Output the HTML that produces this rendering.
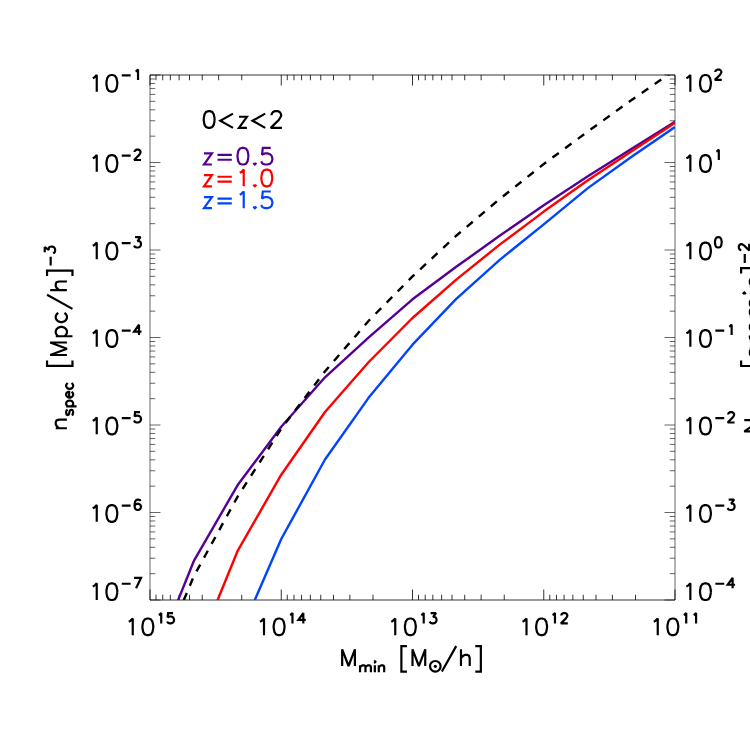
<!DOCTYPE html>
<html><head><meta charset="utf-8"><title>n_spec vs M_min</title>
<style>html,body{margin:0;padding:0;background:#fff}body{width:750px;height:750px;overflow:hidden;font-family:"Liberation Sans",sans-serif}svg{display:block}</style>
</head><body>
<svg width="750" height="750" viewBox="0 0 750 750">
<title>n_spec [Mpc/h]^-3 versus M_min [M_sun/h]</title>
<desc>Log-log plot, 0&lt;z&lt;2. Curves: z=0.5 (purple), z=1.0 (red), z=1.5 (blue), dashed black total. X axis M_min [M_sun/h] from 10^15 to 10^11; left Y axis n_spec [Mpc/h]^-3 from 10^-1 to 10^-7; right Y axis N_proj [arcmin]^-2 from 10^2 to 10^-4.</desc>
<rect width="750" height="750" fill="#fff"/>
<path d="M150 75H675M150 600H675M150 600L150 589.5M150 75L150 85.5M241.74 600L241.74 594.75M241.74 75L241.74 80.25M218.63 600L218.63 594.75M218.63 75L218.63 80.25M202.23 600L202.23 594.75M202.23 75L202.23 80.25M189.51 600L189.51 594.75M189.51 75L189.51 80.25M179.12 600L179.12 594.75M179.12 75L179.12 80.25M170.33 600L170.33 594.75M170.33 75L170.33 80.25M162.72 600L162.72 594.75M162.72 75L162.72 80.25M156.01 600L156.01 594.75M156.01 75L156.01 80.25M281.25 600L281.25 589.5M281.25 75L281.25 85.5M372.99 600L372.99 594.75M372.99 75L372.99 80.25M349.88 600L349.88 594.75M349.88 75L349.88 80.25M333.48 600L333.48 594.75M333.48 75L333.48 80.25M320.76 600L320.76 594.75M320.76 75L320.76 80.25M310.37 600L310.37 594.75M310.37 75L310.37 80.25M301.58 600L301.58 594.75M301.58 75L301.58 80.25M293.97 600L293.97 594.75M293.97 75L293.97 80.25M287.26 600L287.26 594.75M287.26 75L287.26 80.25M412.5 600L412.5 589.5M412.5 75L412.5 85.5M504.24 600L504.24 594.75M504.24 75L504.24 80.25M481.13 600L481.13 594.75M481.13 75L481.13 80.25M464.73 600L464.73 594.75M464.73 75L464.73 80.25M452.01 600L452.01 594.75M452.01 75L452.01 80.25M441.62 600L441.62 594.75M441.62 75L441.62 80.25M432.83 600L432.83 594.75M432.83 75L432.83 80.25M425.22 600L425.22 594.75M425.22 75L425.22 80.25M418.51 600L418.51 594.75M418.51 75L418.51 80.25M543.75 600L543.75 589.5M543.75 75L543.75 85.5M635.49 600L635.49 594.75M635.49 75L635.49 80.25M612.38 600L612.38 594.75M612.38 75L612.38 80.25M595.98 600L595.98 594.75M595.98 75L595.98 80.25M583.26 600L583.26 594.75M583.26 75L583.26 80.25M572.87 600L572.87 594.75M572.87 75L572.87 80.25M564.08 600L564.08 594.75M564.08 75L564.08 80.25M556.47 600L556.47 594.75M556.47 75L556.47 80.25M549.76 600L549.76 594.75M549.76 75L549.76 80.25M675 600L675 589.5M675 75L675 85.5" fill="none" stroke="#000" stroke-width="0.8"/>
<path d="M150 75V600M675 75V600M150 75L160.5 75M675 75L664.5 75M150 136.16L155.25 136.16M675 136.16L669.75 136.16M150 120.75L155.25 120.75M675 120.75L669.75 120.75M150 109.82L155.25 109.82M675 109.82L669.75 109.82M150 101.34L155.25 101.34M675 101.34L669.75 101.34M150 94.41L155.25 94.41M675 94.41L669.75 94.41M150 88.55L155.25 88.55M675 88.55L669.75 88.55M150 83.48L155.25 83.48M675 83.48L669.75 83.48M150 79L155.25 79M675 79L669.75 79M150 162.5L160.5 162.5M675 162.5L664.5 162.5M150 223.66L155.25 223.66M675 223.66L669.75 223.66M150 208.25L155.25 208.25M675 208.25L669.75 208.25M150 197.32L155.25 197.32M675 197.32L669.75 197.32M150 188.84L155.25 188.84M675 188.84L669.75 188.84M150 181.91L155.25 181.91M675 181.91L669.75 181.91M150 176.05L155.25 176.05M675 176.05L669.75 176.05M150 170.98L155.25 170.98M675 170.98L669.75 170.98M150 166.5L155.25 166.5M675 166.5L669.75 166.5M150 250L160.5 250M675 250L664.5 250M150 311.16L155.25 311.16M675 311.16L669.75 311.16M150 295.75L155.25 295.75M675 295.75L669.75 295.75M150 284.82L155.25 284.82M675 284.82L669.75 284.82M150 276.34L155.25 276.34M675 276.34L669.75 276.34M150 269.41L155.25 269.41M675 269.41L669.75 269.41M150 263.55L155.25 263.55M675 263.55L669.75 263.55M150 258.48L155.25 258.48M675 258.48L669.75 258.48M150 254L155.25 254M675 254L669.75 254M150 337.5L160.5 337.5M675 337.5L664.5 337.5M150 398.66L155.25 398.66M675 398.66L669.75 398.66M150 383.25L155.25 383.25M675 383.25L669.75 383.25M150 372.32L155.25 372.32M675 372.32L669.75 372.32M150 363.84L155.25 363.84M675 363.84L669.75 363.84M150 356.91L155.25 356.91M675 356.91L669.75 356.91M150 351.05L155.25 351.05M675 351.05L669.75 351.05M150 345.98L155.25 345.98M675 345.98L669.75 345.98M150 341.5L155.25 341.5M675 341.5L669.75 341.5M150 425L160.5 425M675 425L664.5 425M150 486.16L155.25 486.16M675 486.16L669.75 486.16M150 470.75L155.25 470.75M675 470.75L669.75 470.75M150 459.82L155.25 459.82M675 459.82L669.75 459.82M150 451.34L155.25 451.34M675 451.34L669.75 451.34M150 444.41L155.25 444.41M675 444.41L669.75 444.41M150 438.55L155.25 438.55M675 438.55L669.75 438.55M150 433.48L155.25 433.48M675 433.48L669.75 433.48M150 429L155.25 429M675 429L669.75 429M150 512.5L160.5 512.5M675 512.5L664.5 512.5M150 573.66L155.25 573.66M675 573.66L669.75 573.66M150 558.25L155.25 558.25M675 558.25L669.75 558.25M150 547.32L155.25 547.32M675 547.32L669.75 547.32M150 538.84L155.25 538.84M675 538.84L669.75 538.84M150 531.91L155.25 531.91M675 531.91L669.75 531.91M150 526.05L155.25 526.05M675 526.05L669.75 526.05M150 520.98L155.25 520.98M675 520.98L669.75 520.98M150 516.5L155.25 516.5M675 516.5L669.75 516.5M150 600L160.5 600M675 600L664.5 600" fill="none" stroke="#000" stroke-width="0.6"/>
<clipPath id="c"><rect x="150" y="75" width="525" height="525"/></clipPath>
<g clip-path="url(#c)" fill="none" stroke-width="2.4" stroke-linejoin="round">
<path d="M150 670 L193.75 561.2 L237.5 485.3 L281.25 426.7 L325 377.3 L368.75 337.3 L412.5 299.3 L456.25 266.8 L500 235.6 L543.75 205.2 L587.5 176.4 L631.25 149 L675 121.8" stroke="#550094"/>
<path d="M150 772 L193.75 658.49 L237.5 551.2 L281.25 474.7 L325 412 L368.75 362 L412.5 318 L456.25 279.6 L500 244.4 L543.75 211.6 L587.5 180.4 L631.25 151.4 L675 122.9" stroke="#ff0000"/>
<path d="M150 900 L193.75 790 L237.5 639.9 L281.25 539 L325 459.5 L368.75 397.6 L412.5 344.7 L456.25 298.8 L500 259.6 L543.75 224.4 L587.5 188.4 L631.25 157 L675 127" stroke="#0044ff"/>
<path d="M150 681.03 L193.75 576.34 L237.5 496.8 L281.25 428.72 L325 371.35 L368.75 320.75 L412.5 276.41 L456.25 235.71 L500 198.77 L543.75 164.02 L587.5 131.76 L631.25 100.18 L675 70.13" stroke="#000" stroke-dasharray="7.874 7.874" stroke-dashoffset="6.94"/>
</g>
<path d="M92.77 78.19 L94.36 77.39 L96.75 75 L96.75 91.7M117.26 84.55 L116.48 88.52 L114.94 90.91 L112.62 91.7 L111.08 91.7 L108.76 90.91 L107.22 88.52 L106.44 84.55 L106.44 82.16 L107.22 78.19 L108.76 75.8 L111.08 75 L112.62 75 L114.94 75.8 L116.48 78.19 L117.26 82.16 L117.26 84.55M121.77 75.46 L130.64 75.46M135.57 71.52 L136.56 71.03 L138.04 69.55 L138.04 79.9" fill="none" stroke="#000" stroke-width="2.2" stroke-linejoin="miter" stroke-miterlimit="2.2" stroke-linecap="butt"/>
<path d="M686.37 78.19 L687.96 77.39 L690.35 75 L690.35 91.7M710.86 84.55 L710.08 88.52 L708.54 90.91 L706.22 91.7 L704.68 91.7 L702.36 90.91 L700.82 88.52 L700.04 84.55 L700.04 82.16 L700.82 78.19 L702.36 75.8 L704.68 75 L706.22 75 L708.54 75.8 L710.08 78.19 L710.86 82.16 L710.86 84.55M721.78 79.9 L714.88 79.9 L719.81 74.97 L720.79 73.49 L721.29 72.51 L721.29 71.52 L720.79 70.53 L720.3 70.04 L719.31 69.55 L717.34 69.55 L716.36 70.04 L715.86 70.53 L715.37 71.52 L715.37 72.01" fill="none" stroke="#000" stroke-width="2.2" stroke-linejoin="miter" stroke-miterlimit="2.2" stroke-linecap="butt"/>
<path d="M92.77 158.29 L94.36 157.49 L96.75 155.11 L96.75 171.8M117.26 164.65 L116.48 168.62 L114.94 171.01 L112.62 171.8 L111.08 171.8 L108.76 171.01 L107.22 168.62 L106.44 164.65 L106.44 162.26 L107.22 158.29 L108.76 155.9 L111.08 155.11 L112.62 155.11 L114.94 155.9 L116.48 158.29 L117.26 162.26 L117.26 164.65M121.77 155.56 L130.64 155.56M140.99 160 L134.09 160 L139.02 155.07 L140.01 153.59 L140.5 152.61 L140.5 151.62 L140.01 150.63 L139.52 150.14 L138.53 149.65 L136.56 149.65 L135.57 150.14 L135.08 150.63 L134.59 151.62 L134.59 152.11" fill="none" stroke="#000" stroke-width="2.2" stroke-linejoin="miter" stroke-miterlimit="2.2" stroke-linecap="butt"/>
<path d="M686.37 158.29 L687.96 157.49 L690.35 155.11 L690.35 171.8M710.86 164.65 L710.08 168.62 L708.54 171.01 L706.22 171.8 L704.68 171.8 L702.36 171.01 L700.82 168.62 L700.04 164.65 L700.04 162.26 L700.82 158.29 L702.36 155.9 L704.68 155.11 L706.22 155.11 L708.54 155.9 L710.08 158.29 L710.86 162.26 L710.86 164.65M716.36 151.62 L717.34 151.13 L718.82 149.65 L718.82 160" fill="none" stroke="#000" stroke-width="2.2" stroke-linejoin="miter" stroke-miterlimit="2.2" stroke-linecap="butt"/>
<path d="M92.77 245.79 L94.36 244.99 L96.75 242.61 L96.75 259.3M117.26 252.15 L116.48 256.12 L114.94 258.5 L112.62 259.3 L111.08 259.3 L108.76 258.5 L107.22 256.12 L106.44 252.15 L106.44 249.76 L107.22 245.79 L108.76 243.4 L111.08 242.61 L112.62 242.61 L114.94 243.4 L116.48 245.79 L117.26 249.76 L117.26 252.15M121.77 243.06 L130.64 243.06M134.09 245.53 L134.59 246.51 L135.08 247.01 L136.56 247.5 L138.04 247.5 L139.52 247.01 L140.5 246.02 L140.99 244.54 L140.99 243.56 L140.5 242.08 L140.01 241.59 L139.02 241.09 L137.54 241.09 L140.5 237.15 L135.08 237.15" fill="none" stroke="#000" stroke-width="2.2" stroke-linejoin="miter" stroke-miterlimit="2.2" stroke-linecap="butt"/>
<path d="M686.37 245.79 L687.96 244.99 L690.35 242.61 L690.35 259.3M710.86 252.15 L710.08 256.12 L708.54 258.5 L706.22 259.3 L704.68 259.3 L702.36 258.5 L700.82 256.12 L700.04 252.15 L700.04 249.76 L700.82 245.79 L702.36 243.4 L704.68 242.61 L706.22 242.61 L708.54 243.4 L710.08 245.79 L710.86 249.76 L710.86 252.15M721.68 243.06 L721.2 245.53 L720.24 247.01 L718.81 247.5 L717.85 247.5 L716.41 247.01 L715.46 245.53 L714.98 243.06 L714.98 241.59 L715.46 239.12 L716.41 237.64 L717.85 237.15 L718.81 237.15 L720.24 237.64 L721.2 239.12 L721.68 241.59 L721.68 243.06" fill="none" stroke="#000" stroke-width="2.2" stroke-linejoin="miter" stroke-miterlimit="2.2" stroke-linecap="butt"/>
<path d="M92.77 333.29 L94.36 332.49 L96.75 330.11 L96.75 346.8M117.26 339.65 L116.48 343.62 L114.94 346 L112.62 346.8 L111.08 346.8 L108.76 346 L107.22 343.62 L106.44 339.65 L106.44 337.26 L107.22 333.29 L108.76 330.9 L111.08 330.11 L112.62 330.11 L114.94 330.9 L116.48 333.29 L117.26 337.26 L117.26 339.65M121.77 330.56 L130.64 330.56M141.49 331.55 L134.09 331.55 L139.02 324.65 L139.02 335" fill="none" stroke="#000" stroke-width="2.2" stroke-linejoin="miter" stroke-miterlimit="2.2" stroke-linecap="butt"/>
<path d="M686.37 333.29 L687.96 332.49 L690.35 330.11 L690.35 346.8M710.86 339.65 L710.08 343.62 L708.54 346 L706.22 346.8 L704.68 346.8 L702.36 346 L700.82 343.62 L700.04 339.65 L700.04 337.26 L700.82 333.29 L702.36 330.9 L704.68 330.11 L706.22 330.11 L708.54 330.9 L710.08 333.29 L710.86 337.26 L710.86 339.65M715.37 330.56 L724.24 330.56M729.17 326.62 L730.16 326.13 L731.64 324.65 L731.64 335" fill="none" stroke="#000" stroke-width="2.2" stroke-linejoin="miter" stroke-miterlimit="2.2" stroke-linecap="butt"/>
<path d="M92.77 420.79 L94.36 419.99 L96.75 417.61 L96.75 434.3M117.26 427.15 L116.48 431.12 L114.94 433.5 L112.62 434.3 L111.08 434.3 L108.76 433.5 L107.22 431.12 L106.44 427.15 L106.44 424.76 L107.22 420.79 L108.76 418.4 L111.08 417.61 L112.62 417.61 L114.94 418.4 L116.48 420.79 L117.26 424.76 L117.26 427.15M121.77 418.06 L130.64 418.06M134.09 420.53 L134.59 421.51 L135.08 422.01 L136.56 422.5 L138.04 422.5 L139.52 422.01 L140.5 421.02 L140.99 419.54 L140.99 418.56 L140.5 417.08 L139.52 416.09 L138.04 415.6 L136.56 415.6 L135.08 416.09 L134.59 416.59 L135.08 412.15 L140.01 412.15" fill="none" stroke="#000" stroke-width="2.2" stroke-linejoin="miter" stroke-miterlimit="2.2" stroke-linecap="butt"/>
<path d="M686.37 420.79 L687.96 419.99 L690.35 417.61 L690.35 434.3M710.86 427.15 L710.08 431.12 L708.54 433.5 L706.22 434.3 L704.68 434.3 L702.36 433.5 L700.82 431.12 L700.04 427.15 L700.04 424.76 L700.82 420.79 L702.36 418.4 L704.68 417.61 L706.22 417.61 L708.54 418.4 L710.08 420.79 L710.86 424.76 L710.86 427.15M715.37 418.06 L724.24 418.06M734.59 422.5 L727.69 422.5 L732.62 417.57 L733.61 416.09 L734.1 415.11 L734.1 414.12 L733.61 413.13 L733.12 412.64 L732.13 412.15 L730.16 412.15 L729.17 412.64 L728.68 413.13 L728.19 414.12 L728.19 414.61" fill="none" stroke="#000" stroke-width="2.2" stroke-linejoin="miter" stroke-miterlimit="2.2" stroke-linecap="butt"/>
<path d="M92.77 508.28 L94.36 507.49 L96.75 505.1 L96.75 521.8M117.26 514.64 L116.48 518.62 L114.94 521 L112.62 521.8 L111.08 521.8 L108.76 521 L107.22 518.62 L106.44 514.64 L106.44 512.26 L107.22 508.28 L108.76 505.9 L111.08 505.1 L112.62 505.1 L114.94 505.9 L116.48 508.28 L117.26 512.26 L117.26 514.64M121.77 505.56 L130.64 505.56M134.59 506.55 L135.08 505.07 L136.07 504.09 L137.54 503.59 L138.04 503.59 L139.52 504.09 L140.5 505.07 L140.99 506.55 L140.99 507.04 L140.5 508.52 L139.52 509.51 L138.04 510 L137.54 510 L136.07 509.51 L135.08 508.52 L134.59 506.55 L134.59 504.09 L135.08 501.62 L136.07 500.14 L137.54 499.65 L138.53 499.65 L140.01 500.14 L140.5 501.13" fill="none" stroke="#000" stroke-width="2.2" stroke-linejoin="miter" stroke-miterlimit="2.2" stroke-linecap="butt"/>
<path d="M686.37 508.28 L687.96 507.49 L690.35 505.1 L690.35 521.8M710.86 514.64 L710.08 518.62 L708.54 521 L706.22 521.8 L704.68 521.8 L702.36 521 L700.82 518.62 L700.04 514.64 L700.04 512.26 L700.82 508.28 L702.36 505.9 L704.68 505.1 L706.22 505.1 L708.54 505.9 L710.08 508.28 L710.86 512.26 L710.86 514.64M715.37 505.56 L724.24 505.56M727.69 508.03 L728.19 509.01 L728.68 509.51 L730.16 510 L731.64 510 L733.12 509.51 L734.1 508.52 L734.59 507.04 L734.59 506.06 L734.1 504.58 L733.61 504.09 L732.62 503.59 L731.14 503.59 L734.1 499.65 L728.68 499.65" fill="none" stroke="#000" stroke-width="2.2" stroke-linejoin="miter" stroke-miterlimit="2.2" stroke-linecap="butt"/>
<path d="M92.77 586.49 L94.36 585.69 L96.75 583.3 L96.75 600M117.26 592.85 L116.48 596.82 L114.94 599.21 L112.62 600 L111.08 600 L108.76 599.21 L107.22 596.82 L106.44 592.85 L106.44 590.46 L107.22 586.49 L108.76 584.1 L111.08 583.3 L112.62 583.3 L114.94 584.1 L116.48 586.49 L117.26 590.46 L117.26 592.85M121.77 583.76 L130.64 583.76M134.09 577.85 L140.99 577.85 L136.07 588.2" fill="none" stroke="#000" stroke-width="2.2" stroke-linejoin="miter" stroke-miterlimit="2.2" stroke-linecap="butt"/>
<path d="M686.37 586.49 L687.96 585.69 L690.35 583.3 L690.35 600M710.86 592.85 L710.08 596.82 L708.54 599.21 L706.22 600 L704.68 600 L702.36 599.21 L700.82 596.82 L700.04 592.85 L700.04 590.46 L700.82 586.49 L702.36 584.1 L704.68 583.3 L706.22 583.3 L708.54 584.1 L710.08 586.49 L710.86 590.46 L710.86 592.85M715.37 583.76 L724.24 583.76M735.09 584.75 L727.69 584.75 L732.62 577.85 L732.62 588.2" fill="none" stroke="#000" stroke-width="2.2" stroke-linejoin="miter" stroke-miterlimit="2.2" stroke-linecap="butt"/>
<path d="M128.77 621.69 L130.36 620.89 L132.75 618.5 L132.75 635.2M153.26 628.05 L152.48 632.02 L150.94 634.41 L148.62 635.2 L147.08 635.2 L144.76 634.41 L143.22 632.02 L142.44 628.05 L142.44 625.66 L143.22 621.69 L144.76 619.3 L147.08 618.5 L148.62 618.5 L150.94 619.3 L152.48 621.69 L153.26 625.66 L153.26 628.05M158.76 615.02 L159.74 614.53 L161.22 613.05 L161.22 623.4M167.14 621.43 L167.63 622.41 L168.12 622.91 L169.6 623.4 L171.08 623.4 L172.56 622.91 L173.54 621.92 L174.04 620.44 L174.04 619.46 L173.54 617.98 L172.56 616.99 L171.08 616.5 L169.6 616.5 L168.12 616.99 L167.63 617.49 L168.12 613.05 L173.05 613.05" fill="none" stroke="#000" stroke-width="2.2" stroke-linejoin="miter" stroke-miterlimit="2.2" stroke-linecap="butt"/>
<path d="M260.02 621.69 L261.61 620.89 L264 618.5 L264 635.2M284.51 628.05 L283.73 632.02 L282.19 634.41 L279.87 635.2 L278.33 635.2 L276.01 634.41 L274.47 632.02 L273.69 628.05 L273.69 625.66 L274.47 621.69 L276.01 619.3 L278.33 618.5 L279.87 618.5 L282.19 619.3 L283.73 621.69 L284.51 625.66 L284.51 628.05M290.01 615.02 L290.99 614.53 L292.47 613.05 L292.47 623.4M305.78 619.95 L298.39 619.95 L303.32 613.05 L303.32 623.4" fill="none" stroke="#000" stroke-width="2.2" stroke-linejoin="miter" stroke-miterlimit="2.2" stroke-linecap="butt"/>
<path d="M391.27 621.69 L392.86 620.89 L395.25 618.5 L395.25 635.2M415.76 628.05 L414.98 632.02 L413.44 634.41 L411.12 635.2 L409.58 635.2 L407.26 634.41 L405.72 632.02 L404.94 628.05 L404.94 625.66 L405.72 621.69 L407.26 619.3 L409.58 618.5 L411.12 618.5 L413.44 619.3 L414.98 621.69 L415.76 625.66 L415.76 628.05M421.26 615.02 L422.24 614.53 L423.72 613.05 L423.72 623.4M429.64 621.43 L430.13 622.41 L430.62 622.91 L432.1 623.4 L433.58 623.4 L435.06 622.91 L436.04 621.92 L436.54 620.44 L436.54 619.46 L436.04 617.98 L435.55 617.49 L434.57 616.99 L433.09 616.99 L436.04 613.05 L430.62 613.05" fill="none" stroke="#000" stroke-width="2.2" stroke-linejoin="miter" stroke-miterlimit="2.2" stroke-linecap="butt"/>
<path d="M522.52 621.69 L524.11 620.89 L526.5 618.5 L526.5 635.2M547.01 628.05 L546.23 632.02 L544.69 634.41 L542.37 635.2 L540.83 635.2 L538.51 634.41 L536.97 632.02 L536.19 628.05 L536.19 625.66 L536.97 621.69 L538.51 619.3 L540.83 618.5 L542.37 618.5 L544.69 619.3 L546.23 621.69 L547.01 625.66 L547.01 628.05M552.51 615.02 L553.49 614.53 L554.97 613.05 L554.97 623.4M567.79 623.4 L560.89 623.4 L565.82 618.47 L566.8 616.99 L567.29 616.01 L567.29 615.02 L566.8 614.03 L566.31 613.54 L565.32 613.05 L563.35 613.05 L562.37 613.54 L561.87 614.03 L561.38 615.02 L561.38 615.51" fill="none" stroke="#000" stroke-width="2.2" stroke-linejoin="miter" stroke-miterlimit="2.2" stroke-linecap="butt"/>
<path d="M653.77 621.69 L655.36 620.89 L657.75 618.5 L657.75 635.2M678.26 628.05 L677.48 632.02 L675.94 634.41 L673.62 635.2 L672.08 635.2 L669.76 634.41 L668.22 632.02 L667.44 628.05 L667.44 625.66 L668.22 621.69 L669.76 619.3 L672.08 618.5 L673.62 618.5 L675.94 619.3 L677.48 621.69 L678.26 625.66 L678.26 628.05M683.76 615.02 L684.74 614.53 L686.22 613.05 L686.22 623.4M693.62 615.02 L694.6 614.53 L696.08 613.05 L696.08 623.4" fill="none" stroke="#000" stroke-width="2.2" stroke-linejoin="miter" stroke-miterlimit="2.2" stroke-linecap="butt"/>
<path d="M342.18 666 L342.18 649.3 L348.54 666 L354.9 649.3 L354.9 666M360.05 672.2 L360.05 665.3M360.05 667.27 L361.53 665.79 L362.52 665.3 L363.99 665.3 L364.98 665.79 L365.47 667.27 L365.47 672.2M365.47 667.27 L366.95 665.79 L367.94 665.3 L369.42 665.3 L370.4 665.79 L370.9 667.27 L370.9 672.2M374.35 661.85 L374.84 662.34 L375.33 661.85 L374.84 661.36 L374.35 661.85M374.84 665.3 L374.84 672.2M378.78 672.2 L378.78 665.3M378.78 667.27 L380.26 665.79 L381.25 665.3 L382.73 665.3 L383.71 665.79 L384.2 667.27 L384.2 672.2M406.94 671.57 L401.38 671.57 L401.38 646.12 L406.94 646.12M412.51 666 L412.51 649.3 L418.87 666 L425.23 649.3 L425.23 666M441.89 671.57 L456.2 646.12M460.97 666 L460.97 649.3M460.97 658.05 L463.36 655.66 L464.95 654.87 L467.33 654.87 L468.92 655.66 L469.72 658.05 L469.72 666M475.28 671.57 L480.85 671.57 L480.85 646.12 L475.28 646.12" fill="none" stroke="#000" stroke-width="2.2" stroke-linejoin="miter" stroke-miterlimit="2.2" stroke-linecap="butt"/>
<circle cx="435.3" cy="666.3" r="5.3" fill="none" stroke="#000" stroke-width="2.2"/><circle cx="435.3" cy="666.3" r="1.6" fill="#000"/>
<path d="M66.9 428.27 L55.77 428.27M58.95 428.27 L56.57 425.92 L55.77 424.36 L55.77 422.01 L56.57 420.45 L58.95 419.67 L66.9 419.67M71.62 415.08 L72.61 414.6 L73.1 413.14 L73.1 411.69 L72.61 410.23 L71.62 409.75 L71.13 409.75 L70.14 410.23 L69.65 411.2 L69.16 413.63 L68.66 414.6 L67.68 415.08 L66.69 414.6 L66.2 413.14 L66.2 411.69 L66.69 410.23 L67.68 409.75M76.55 406.35 L66.2 406.35M71.62 406.35 L72.61 405.38 L73.1 404.41 L73.1 402.96 L72.61 401.99 L71.62 401.02 L70.14 400.53 L69.16 400.53 L67.68 401.02 L66.69 401.99 L66.2 402.96 L66.2 404.41 L66.69 405.38 L67.68 406.35M71.62 391.8 L72.61 392.77 L73.1 393.74 L73.1 395.2 L72.61 396.17 L71.62 397.14 L70.14 397.62 L69.16 397.62 L67.68 397.14 L66.69 396.17 L66.2 395.2 L66.2 393.74 L66.69 392.77 L67.19 392.29 L68.17 391.8 L69.16 391.8 L69.16 397.62M71.62 383.07 L72.61 384.04 L73.1 385.01 L73.1 386.47 L72.61 387.44 L71.62 388.41 L70.14 388.89 L69.16 388.89 L67.68 388.41 L66.69 387.44 L66.2 386.47 L66.2 385.01 L66.69 384.04 L67.68 383.07M72.47 360.49 L72.47 365.97 L47.03 365.97 L47.03 360.49M66.9 355.02 L50.21 355.02 L66.9 348.76 L50.21 342.5 L66.9 342.5M72.47 336.24 L55.77 336.24M64.52 336.24 L66.11 334.68 L66.9 333.11 L66.9 330.77 L66.11 329.2 L64.52 327.64 L62.13 326.86 L60.54 326.86 L58.16 327.64 L56.57 329.2 L55.77 330.77 L55.77 333.11 L56.57 334.68 L58.16 336.24M64.52 312.78 L66.11 314.34 L66.9 315.9 L66.9 318.25 L66.11 319.82 L64.52 321.38 L62.13 322.16 L60.54 322.16 L58.16 321.38 L56.57 319.82 L55.77 318.25 L55.77 315.9 L56.57 314.34 L58.16 312.78M72.47 308.86 L47.03 294.78M66.9 290.09 L50.21 290.09M58.95 290.09 L56.57 287.74 L55.77 286.18 L55.77 283.83 L56.57 282.27 L58.95 281.48 L66.9 281.48M72.47 276.01 L72.47 270.53 L47.03 270.53 L47.03 276.01M50.66 265.46 L50.66 256.73M53.13 253.34 L54.11 252.85 L54.61 252.37 L55.1 250.91 L55.1 249.46 L54.61 248 L53.62 247.03 L52.14 246.55 L51.16 246.55 L49.68 247.03 L49.19 247.52 L48.69 248.49 L48.69 249.94 L44.75 247.03 L44.75 252.37" fill="none" stroke="#000" stroke-width="2.2" stroke-linejoin="miter" stroke-miterlimit="2.2" stroke-linecap="butt"/>
<path d="M761 431.32 L744.3 431.32 L761 420.19 L744.3 420.19M770.65 415.04 L760.3 415.04M765.72 415.04 L766.71 414.05 L767.2 413.07 L767.2 411.59 L766.71 410.6 L765.72 409.62 L764.24 409.12 L763.26 409.12 L761.78 409.62 L760.79 410.6 L760.3 411.59 L760.3 413.07 L760.79 414.05 L761.78 415.04M767.2 405.67 L760.3 405.67M763.26 405.67 L761.78 405.18 L760.79 404.19 L760.3 403.21 L760.3 401.73M764.24 393.35 L765.72 393.84 L766.71 394.83 L767.2 395.82 L767.2 397.29 L766.71 398.28 L765.72 399.27 L764.24 399.76 L763.26 399.76 L761.78 399.27 L760.79 398.28 L760.3 397.29 L760.3 395.82 L760.79 394.83 L761.78 393.84 L763.26 393.35 L764.24 393.35M756.85 389.41 L757.34 388.91 L756.85 388.42 L756.36 388.91 L756.85 389.41M760.3 388.91 L768.68 388.91 L770.16 389.41 L770.65 390.39 L770.65 391.38M766.57 360.45 L766.57 366.02 L741.12 366.02 L741.12 360.45M766.57 273.62 L766.57 268.05 L741.12 268.05 L741.12 273.62M744.76 262.9 L744.76 254.03M749.2 243.68 L749.2 250.58 L744.27 245.65 L742.79 244.66 L741.81 244.17 L740.82 244.17 L739.83 244.66 L739.34 245.15 L738.85 246.14 L738.85 248.11 L739.34 249.1 L739.83 249.59 L740.82 250.08 L741.31 250.08M758.62 348.14 L760.21 349.73 L761 351.32 L761 353.7 L760.21 355.3 L758.62 356.88 L756.23 357.68 L754.64 357.68 L752.25 356.88 L750.66 355.3 L749.87 353.7 L749.87 351.32 L750.66 349.73 L752.25 348.14M761 348.14 L749.87 348.14M761 341.78 L749.87 341.78M754.64 341.78 L752.25 340.99 L750.66 339.39 L749.87 337.81 L749.87 335.42M758.62 322.7 L760.21 324.29 L761 325.88 L761 328.26 L760.21 329.86 L758.62 331.44 L756.23 332.24 L754.64 332.24 L752.25 331.44 L750.66 329.86 L749.87 328.26 L749.87 325.88 L750.66 324.29 L752.25 322.7M761 317.13 L749.87 317.13M753.05 317.13 L750.66 314.75 L749.87 313.16 L749.87 310.77 L750.66 309.19 L753.05 308.39 L761 308.39M753.05 308.39 L750.66 306 L749.87 304.41 L749.87 302.03 L750.66 300.44 L753.05 299.64 L761 299.64M744.3 294.08 L745.1 293.28 L744.3 292.49 L743.51 293.28 L744.3 294.08M749.87 293.28 L761 293.28M761 286.92 L749.87 286.92M753.05 286.92 L750.66 284.54 L749.87 282.95 L749.87 280.56 L750.66 278.98 L753.05 278.18 L761 278.18" fill="none" stroke="#000" stroke-width="2.2" stroke-linejoin="miter" stroke-miterlimit="2.2" stroke-linecap="butt"/>
<path d="M214.56 120.75 L213.78 124.72 L212.24 127.11 L209.92 127.9 L208.38 127.9 L206.06 127.11 L204.52 124.72 L203.74 120.75 L203.74 118.36 L204.52 114.39 L206.06 112 L208.38 111.21 L209.92 111.21 L212.24 112 L213.78 114.39 L214.56 118.36 L214.56 120.75M233 113.59 L220.28 120.75 L233 127.9M238.96 116.77 L246.91 116.77 L238.96 127.9 L246.91 127.9M265.2 113.59 L252.48 120.75 L265.2 127.9M281.89 127.9 L270.76 127.9 L278.71 119.95 L280.3 117.56 L281.1 115.98 L281.1 114.39 L280.3 112.8 L279.51 112 L277.92 111.21 L274.74 111.21 L273.15 112 L272.35 112.8 L271.56 114.39 L271.56 115.18" fill="none" stroke="#000" stroke-width="2.2" stroke-linejoin="miter" stroke-miterlimit="2.2" stroke-linecap="butt"/>
<path d="M203.98 153.37 L211.93 153.37 L203.98 164.5 L211.93 164.5M217.5 159.73 L231.81 159.73M217.5 154.96 L231.81 154.96M248.34 157.34 L247.57 161.32 L246.03 163.71 L243.71 164.5 L242.17 164.5 L239.85 163.71 L238.3 161.32 L237.53 157.34 L237.53 154.96 L238.3 150.99 L239.85 148.6 L242.17 147.81 L243.71 147.81 L246.03 148.6 L247.57 150.99 L248.34 154.96 L248.34 157.34M254.86 162.91 L254.07 163.71 L254.86 164.5 L255.66 163.71 L254.86 162.91M261.22 161.32 L262.02 162.91 L262.81 163.71 L265.2 164.5 L267.58 164.5 L269.97 163.71 L271.56 162.12 L272.35 159.73 L272.35 158.14 L271.56 155.75 L269.97 154.16 L267.58 153.37 L265.2 153.37 L262.81 154.16 L262.02 154.96 L262.81 147.81 L270.76 147.81" fill="none" stroke="#550094" stroke-width="2.2" stroke-linejoin="miter" stroke-miterlimit="2.2" stroke-linecap="butt"/>
<path d="M203.98 175.17 L211.93 175.17 L203.98 186.3 L211.93 186.3M217.5 181.53 L231.81 181.53M217.5 176.76 L231.81 176.76M239.76 172.79 L241.35 171.99 L243.73 169.61 L243.73 186.3M254.86 184.71 L254.07 185.51 L254.86 186.3 L255.66 185.51 L254.86 184.71M272.19 179.15 L271.42 183.12 L269.88 185.51 L267.56 186.3 L266.02 186.3 L263.7 185.51 L262.15 183.12 L261.38 179.15 L261.38 176.76 L262.15 172.79 L263.7 170.4 L266.02 169.61 L267.56 169.61 L269.88 170.4 L271.42 172.79 L272.19 176.76 L272.19 179.15" fill="none" stroke="#ff0000" stroke-width="2.2" stroke-linejoin="miter" stroke-miterlimit="2.2" stroke-linecap="butt"/>
<path d="M203.98 197.07 L211.93 197.07 L203.98 208.2 L211.93 208.2M217.5 203.43 L231.81 203.43M217.5 198.66 L231.81 198.66M239.76 194.69 L241.35 193.89 L243.73 191.5 L243.73 208.2M254.86 206.61 L254.07 207.41 L254.86 208.2 L255.66 207.41 L254.86 206.61M261.22 205.02 L262.02 206.61 L262.81 207.41 L265.2 208.2 L267.58 208.2 L269.97 207.41 L271.56 205.81 L272.35 203.43 L272.35 201.84 L271.56 199.45 L269.97 197.86 L267.58 197.07 L265.2 197.07 L262.81 197.86 L262.02 198.66 L262.81 191.5 L270.76 191.5" fill="none" stroke="#0044ff" stroke-width="2.2" stroke-linejoin="miter" stroke-miterlimit="2.2" stroke-linecap="butt"/>
</svg>
</body></html>
